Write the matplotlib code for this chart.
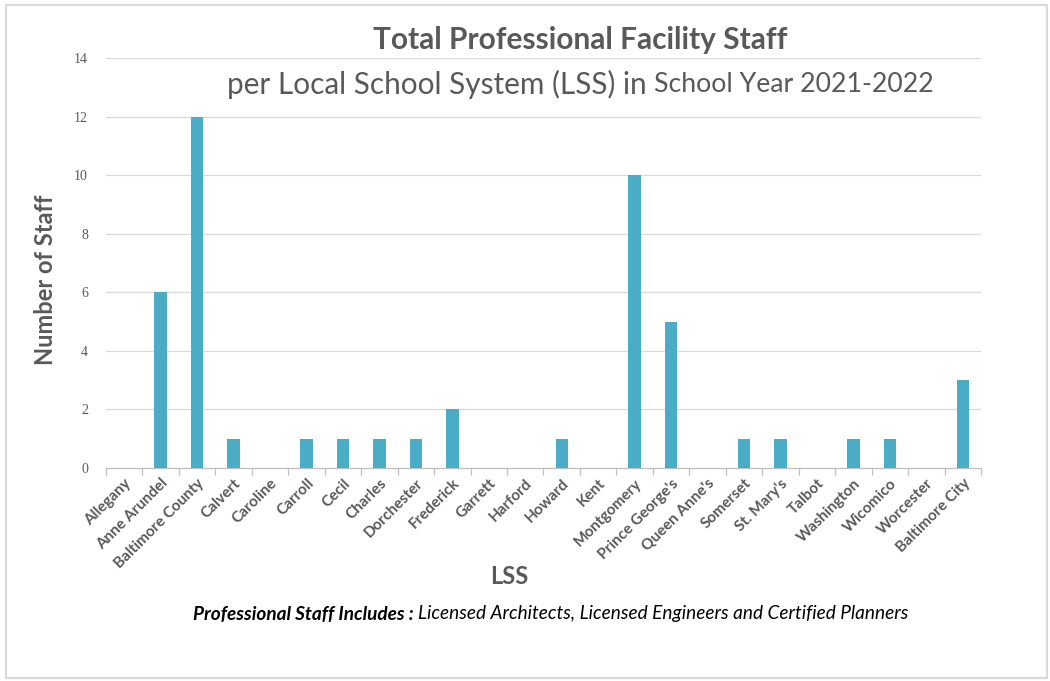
import numpy as np
import matplotlib as mpl
import matplotlib.pyplot as plt
from matplotlib.patches import Rectangle

mpl.rcParams['font.family'] = ['Lato', 'DejaVu Sans']

counties = ['Allegany', 'Anne Arundel', 'Baltimore County', 'Calvert', 'Caroline',
            'Carroll', 'Cecil', 'Charles', 'Dorchester', 'Frederick', 'Garrett',
            'Harford', 'Howard', 'Kent', 'Montgomery', "Prince George's",
            "Queen Anne's", 'Somerset', "St. Mary's", 'Talbot', 'Washington',
            'Wicomico', 'Worcester', 'Baltimore City']
staff = [0, 6, 12, 1, 0, 1, 1, 1, 1, 2, 0, 0, 1, 0, 10, 5, 0, 1, 1, 0, 1, 1, 0, 3]
yticks = [0, 2, 4, 6, 8, 10, 12, 14]

W, H = 1050, 681
grey = '#595959'

fig = plt.figure(figsize=(W / 100, H / 100), dpi=100)
ax = fig.add_axes([106 / W, 1 - 468 / H, (981 - 106) / W, (468 - 58) / H])

x = np.arange(len(counties))
ax.bar(x, staff, width=0.34, color='#4BACC6', zorder=3)

ax.set_xlim(-0.5, len(counties) - 0.5)
ax.set_ylim(0, 14)
ax.set_yticks(yticks)
ax.set_yticklabels([str(v) for v in yticks], family='Liberation Serif',
                   fontsize=10, color=grey)
ax.tick_params(axis='y', length=0, pad=13)
ax.grid(axis='y', color='#D9D9D9', lw=0.9, zorder=0)

ax.set_xticks(x)
ax.set_xticklabels(counties, rotation=45, ha='right', rotation_mode='anchor',
                   fontsize=11, fontweight='bold', color=grey)
ax.set_xticks(np.arange(len(counties) + 1) - 0.5, minor=True)
ax.tick_params(axis='x', which='major', length=0, pad=6)
ax.tick_params(axis='x', which='minor', length=5, color='#BFBFBF', width=0.9)

for s in ['top', 'right', 'left']:
    ax.spines[s].set_visible(False)
ax.spines['bottom'].set_color('#BFBFBF')
ax.spines['bottom'].set_linewidth(0.9)

fig.text(46 / W, 1 - 280 / H, 'Number of Staff', rotation=90, ha='center',
         va='center', fontsize=17, fontweight='bold', color=grey)
fig.text(509 / W, 1 - 577 / H, 'LSS', ha='center', va='center',
         fontsize=17, fontweight='bold', color=grey)

fig.text(580 / W, 1 - 40 / H, 'Total Professional Facility Staff', ha='center',
         va='center', fontsize=21.5, fontweight='bold', color=grey)


def run_text(parts, x0, y, **common):
    # draw pieces one after another on a single line
    fig.canvas.draw()
    r = fig.canvas.get_renderer()
    xpos = x0
    for txt, kw in parts:
        t = fig.text(xpos / W, 1 - y / H, txt, ha='left', va='center', **common, **kw)
        bb = t.get_window_extent(r)
        xpos = bb.x1


run_text([('per Local School System (LSS) in ', dict(fontsize=21.4)),
          ('School Year 2021-2022', dict(fontsize=19.2))],
         227, 84, color=grey)

run_text([('Professional Staff Includes : ', dict(fontweight='bold', style='italic')),
          ('Licensed Architects, Licensed Engineers and Certified Planners',
           dict(style='italic'))],
         193, 614, color='black', fontsize=13.7)

fig.patches.append(Rectangle((6 / W, 1 - 678 / H), (1047 - 6) / W, (678 - 5) / H,
                             transform=fig.transFigure, fill=False,
                             edgecolor='#D9D9D9', lw=1.5))

fig.savefig('out.png', dpi=100)
